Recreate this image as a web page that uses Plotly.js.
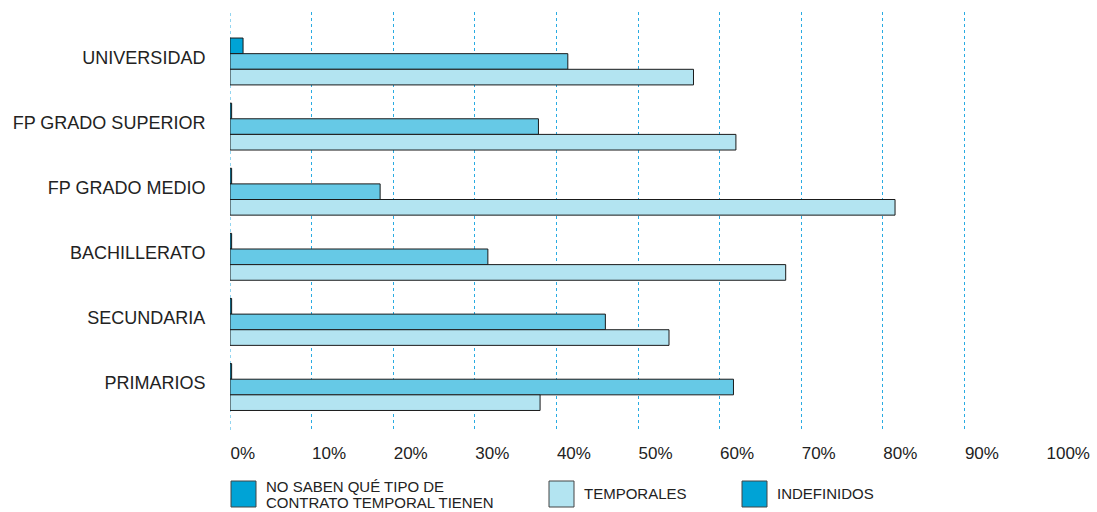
<!DOCTYPE html>
<html>
<head>
<meta charset="utf-8">
<script src="https://cdn.plot.ly/plotly-3.0.1.min.js"></script>
<style>html,body{margin:0;padding:0;background:#fff;}#chart{width:1097px;height:512px;}</style>
</head>
<body>
<div id="chart"></div>
<script>
const categories = ["UNIVERSIDAD", "FP GRADO SUPERIOR", "FP GRADO MEDIO", "BACHILLERATO", "SECUNDARIA", "PRIMARIOS"];
const noSaben = [1.6, 0.2, 0.2, 0.2, 0.2, 0.2];
const indefinidos = [41.4, 37.8, 18.4, 31.6, 46.0, 61.7];
const temporales = [56.8, 62.0, 81.5, 68.1, 53.8, 38.0];
const xTickVals = [0, 10, 20, 30, 40, 50, 60, 70, 80, 90, 100];
const xTickText = ["0%", "10%", "20%", "30%", "40%", "50%", "60%", "70%", "80%", "90%", "100%"];
const legendLabels = [["NO SABEN QUÉ TIPO DE", "CONTRATO TEMPORAL TIENEN"], ["TEMPORALES"], ["INDEFINIDOS"]];
const colDark = "#00a3d6", colMid = "#66c9e6", colLight = "#b3e4f1";

const outline = {color: "#1a1a1a", width: 1};
const traces = [
  {type: "bar", orientation: "h", y: categories, x: noSaben, name: "NO SABEN", marker: {color: colDark, line: outline}, showlegend: false, hoverinfo: "x"},
  {type: "bar", orientation: "h", y: categories, x: indefinidos, name: "INDEFINIDOS", marker: {color: colMid, line: outline}, showlegend: false, hoverinfo: "x"},
  {type: "bar", orientation: "h", y: categories, x: temporales, name: "TEMPORALES", marker: {color: colLight, line: outline}, showlegend: false, hoverinfo: "x"}
];

const L = 230, R = 1046, T = 12, B = 430;
const px = v => (v - L) / (R - L);
const py = v => (B - v) / (B - T);
const FONT = "Liberation Sans, Arial, sans-serif";
const swatches = [{x: 231, c: colDark, tx: 265}, {x: 549, c: colLight, tx: 583}, {x: 742, c: colDark, tx: 776}];
const shapes = [
  {type: "line", xref: "x", yref: "paper", x0: 0, x1: 0, y0: 0, y1: 1, line: {color: "#29abe2", width: 1, dash: "dot"}, layer: "below"}
];
const annotations = [];
swatches.forEach((s, i) => {
  shapes.push({type: "rect", xref: "paper", yref: "paper", x0: px(s.x), x1: px(s.x + 25), y0: py(507), y1: py(481),
    fillcolor: s.c, line: {color: "#444", width: 1}});
  const lines = legendLabels[i];
  const ys = lines.length === 2 ? [487, 502] : [493];
  lines.forEach((t, j) => {
    annotations.push({xref: "paper", yref: "paper", x: px(s.tx), y: py(ys[j]), xanchor: "left", yanchor: "middle",
      text: t, showarrow: false, align: "left", borderpad: 0,
      font: {family: FONT, size: 15, color: "#222"}});
  });
});

const layout = {
  width: 1097, height: 512,
  margin: {l: L, r: 1097 - R, t: T, b: 512 - B, pad: 0},
  paper_bgcolor: "#fff", plot_bgcolor: "#fff",
  barmode: "group", bargap: 0.28, bargroupgap: 0,
  font: {family: FONT, color: "#222"},
  xaxis: {range: [0, 100], tickvals: xTickVals, ticktext: xTickText, showgrid: true,
    gridcolor: "#29abe2", griddash: "dot", gridwidth: 1, zeroline: false, showline: false,
    ticks: "outside", ticklen: 9, tickcolor: "rgba(0,0,0,0)", ticklabelposition: "outside right",
    ticklabelstandoff: 8,
    tickfont: {size: 17, color: "#222"}, fixedrange: true},
  yaxis: {type: "category", categoryorder: "array", categoryarray: categories, range: [5.66, -0.76],
    showgrid: false, zeroline: false, showline: false, ticks: "outside", ticklen: 20, tickcolor: "rgba(0,0,0,0)",
    ticklabelshift: 4,
    tickfont: {size: 18, color: "#222"}, fixedrange: true},
  shapes: shapes, annotations: annotations,
  showlegend: false
};
Plotly.newPlot("chart", traces, layout, {displayModeBar: false, staticPlot: true});
</script>
</body>
</html>
